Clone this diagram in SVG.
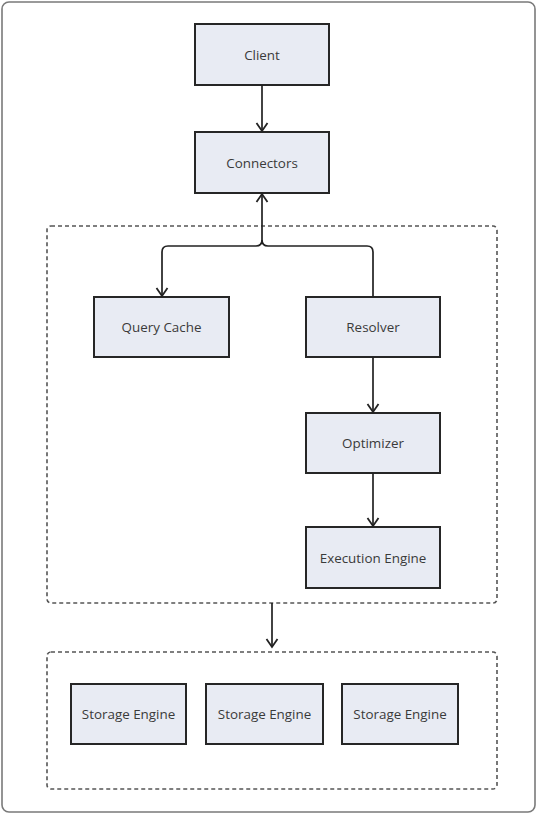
<svg xmlns="http://www.w3.org/2000/svg" width="537" height="815" viewBox="0 0 537 815">
<defs>
<marker id="arr" viewBox="0 0 14 14" refX="12" refY="7" markerWidth="14" markerHeight="14" markerUnits="userSpaceOnUse" orient="auto">
<path d="M4,1.5 L12,7 L4,12.5" fill="none" stroke="#222" stroke-width="1.8"/>
</marker>
</defs>
<style>
.box{fill:#e8ebf3;stroke:#262626;stroke-width:2}
.lbl{font-family:"Open Sans","Noto Sans",sans-serif;font-size:13.4px;fill:#3a3a3a;text-anchor:middle;dominant-baseline:central}
.grp{fill:none;stroke:#555;stroke-width:1.6;stroke-dasharray:4 3}
.edge{fill:none;stroke:#222;stroke-width:1.7}
</style>
<rect x="2" y="2" width="533" height="810" rx="7" fill="#fff" stroke="#7a7a7a" stroke-width="1.6"/>
<g id="group-core"><rect class="grp" x="47" y="226" width="450" height="377" rx="4"/></g>
<g id="group-storage"><rect class="grp" x="47" y="652" width="450" height="137" rx="4"/></g>
<g id="client"><rect class="box" x="195" y="24" width="134" height="61"/><text class="lbl" x="262" y="55">Client</text></g>
<g id="connectors"><rect class="box" x="195" y="132" width="134" height="61"/><text class="lbl" x="262" y="163">Connectors</text></g>
<g id="query-cache"><rect class="box" x="94" y="297" width="135" height="60"/><text class="lbl" x="161.5" y="327">Query Cache</text></g>
<g id="resolver"><rect class="box" x="306" y="297" width="134" height="60"/><text class="lbl" x="373" y="327">Resolver</text></g>
<g id="optimizer"><rect class="box" x="306" y="413" width="134" height="60"/><text class="lbl" x="373" y="443">Optimizer</text></g>
<g id="execution-engine"><rect class="box" x="306" y="527" width="134" height="61"/><text class="lbl" x="373" y="558">Execution Engine</text></g>
<g id="storage-engine-1"><rect class="box" x="71" y="684" width="115" height="60"/><text class="lbl" x="128.5" y="714">Storage Engine</text></g>
<g id="storage-engine-2"><rect class="box" x="206" y="684" width="117" height="60"/><text class="lbl" x="264.5" y="714">Storage Engine</text></g>
<g id="storage-engine-3"><rect class="box" x="342" y="684" width="116" height="60"/><text class="lbl" x="400" y="714">Storage Engine</text></g>
<g id="edges">
<path class="edge" d="M262,85 V131" marker-end="url(#arr)"/>
<path class="edge" d="M373,297 V252 Q373,246 367,246 H268 Q262,246 262,240 V194" marker-end="url(#arr)"/>
<path class="edge" d="M262,240 Q262,246 256,246 H168 Q162,246 162,252 V296" marker-end="url(#arr)"/>
<path class="edge" d="M373,357 V412" marker-end="url(#arr)"/>
<path class="edge" d="M373,473 V526" marker-end="url(#arr)"/>
<path class="edge" d="M272,603 V647" marker-end="url(#arr)"/>
</g>
</svg>
